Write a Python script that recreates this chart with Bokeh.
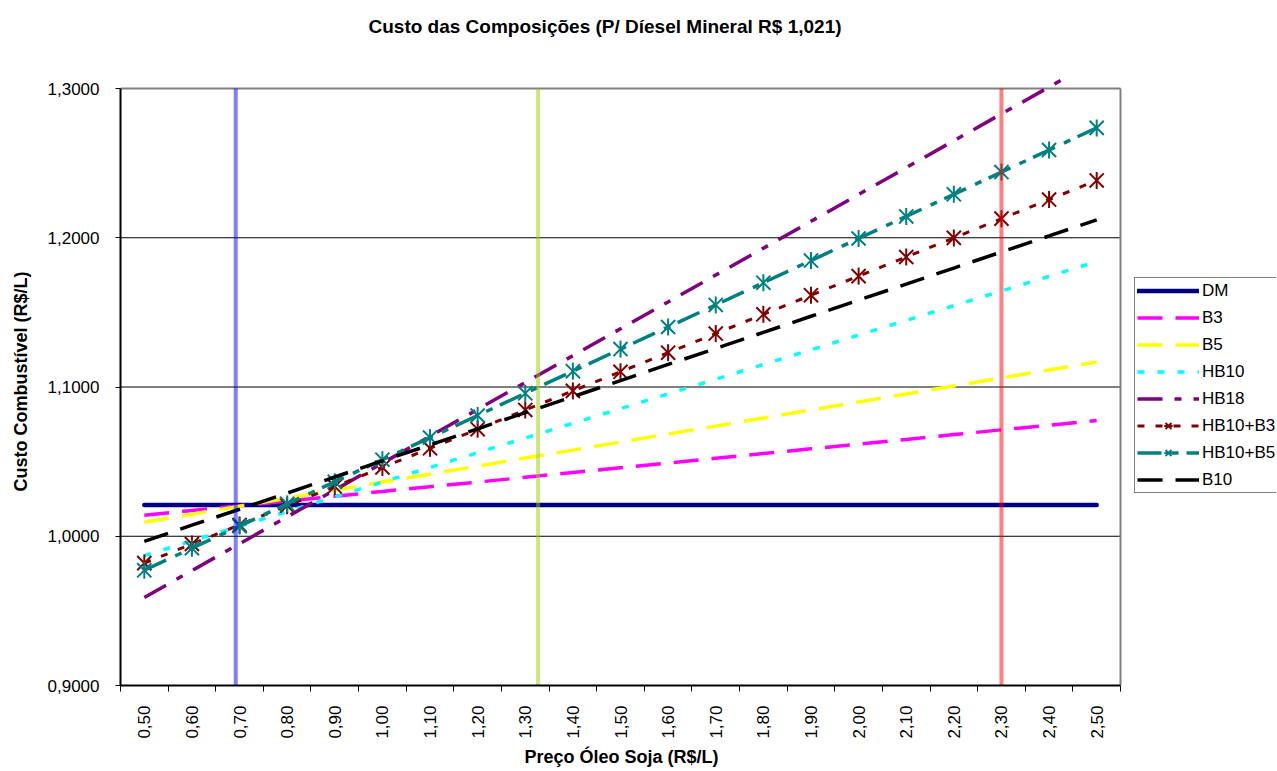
import math
from bokeh.plotting import figure
from bokeh.models import (Range1d, FixedTicker, CustomJSTickFormatter,
                          Legend, LegendItem, Title)
from bokeh.embed import file_html
from bokeh.resources import INLINE

# ---------------- data ----------------
prices = [0.50, 0.60, 0.70, 0.80, 0.90, 1.00, 1.10, 1.20, 1.30, 1.40, 1.50,
          1.60, 1.70, 1.80, 1.90, 2.00, 2.10, 2.20, 2.30, 2.40, 2.50]
x_labels = ["0,50", "0,60", "0,70", "0,80", "0,90", "1,00", "1,10", "1,20",
            "1,30", "1,40", "1,50", "1,60", "1,70", "1,80", "1,90", "2,00",
            "2,10", "2,20", "2,30", "2,40", "2,50"]
y_ticks = [0.9, 1.0, 1.1, 1.2, 1.3]
y_labels = ["0,9000", "1,0000", "1,1000", "1,2000", "1,3000"]

dm = [1.021, 1.021, 1.021, 1.021, 1.021, 1.021, 1.021, 1.021, 1.021, 1.021, 1.021,
      1.021, 1.021, 1.021, 1.021, 1.021, 1.021, 1.021, 1.021, 1.021, 1.021]
b3 = [1.0141, 1.0173, 1.0205, 1.0236, 1.0268, 1.0300, 1.0332, 1.0363, 1.0395,
      1.0427, 1.0459, 1.0490, 1.0522, 1.0554, 1.0586, 1.0617, 1.0649, 1.0681,
      1.0713, 1.0744, 1.0776]
b5 = [1.0094, 1.0148, 1.0201, 1.0255, 1.0309, 1.0363, 1.0416, 1.0470, 1.0524,
      1.0577, 1.0631, 1.0685, 1.0738, 1.0792, 1.0846, 1.0900, 1.0953, 1.1007,
      1.1061, 1.1114, 1.1168]
hb10 = [0.9870, 0.9969, 1.0067, 1.0166, 1.0264, 1.0363, 1.0461, 1.0560, 1.0658,
        1.0757, 1.0855, 1.0954, 1.1052, 1.1151, 1.1249, 1.1348, 1.1446, 1.1545,
        1.1643, 1.1742, 1.1840]
hb18 = [0.9590, 0.9770, 0.9950, 1.0130, 1.0310, 1.0490, 1.0670, 1.0850, 1.1030,
        1.1210, 1.1390, 1.1570, 1.1750, 1.1930, 1.2110, 1.2290, 1.2470, 1.2650,
        1.2830, 1.3010, 1.3190]
hb10_b3 = [0.9820, 0.9948, 1.0076, 1.0205, 1.0333, 1.0461, 1.0589, 1.0717, 1.0846,
           1.0974, 1.1102, 1.1230, 1.1358, 1.1487, 1.1615, 1.1743, 1.1871, 1.1999,
           1.2128, 1.2256, 1.2384]
hb10_b5 = [0.9772, 0.9920, 1.0068, 1.0217, 1.0365, 1.0513, 1.0661, 1.0809, 1.0958,
           1.1106, 1.1254, 1.1402, 1.1550, 1.1699, 1.1847, 1.1995, 1.2143, 1.2291,
           1.2440, 1.2588, 1.2736]
b10 = [0.9966, 1.0074, 1.0181, 1.0289, 1.0397, 1.0505, 1.0612, 1.0720, 1.0828,
       1.0935, 1.1043, 1.1151, 1.1258, 1.1366, 1.1474, 1.1582, 1.1689, 1.1797,
       1.1905, 1.2012, 1.2120]

ref_prices = [0.692, 1.327, 2.30]
ref_colors = ["#0000FF", "#99CC00", "#FF0000"]

FONT = "Liberation Sans"

# category boundaries (tick marks between categories)
half = [(prices[i + 1] - prices[i]) / 2 for i in range(len(prices) - 1)]
bounds = [prices[0] - half[0]] + [prices[i] + half[i] for i in range(len(half))] + [prices[-1] + half[-1]]
x_lo, x_hi = bounds[0], bounds[-1]
y_lo, y_hi = y_ticks[0], y_ticks[-1]

# layout geometry (pixels)
FIG_W, FIG_H = 1276, 770
LEFT, BOTTOM = 120, 85
PLOT_W, PLOT_H = 1000, 597           # drawn plot area
TOP = 77                             # frame a bit taller than plot area (line overshoot)
frame_w = FIG_W - LEFT
frame_h = FIG_H - TOP - BOTTOM
x_end = x_lo + (x_hi - x_lo) * frame_w / PLOT_W
y_end = y_lo + (y_hi - y_lo) * frame_h / PLOT_H

# ---------------- figure ----------------
p = figure(width=FIG_W, height=FIG_H,
           x_range=Range1d(x_lo, x_end), y_range=Range1d(y_lo, y_end),
           output_backend="svg", toolbar_location=None,
           min_border_left=LEFT, min_border_right=0,
           min_border_top=TOP, min_border_bottom=BOTTOM)
p.background_fill_color = "white"
p.border_fill_color = "white"
p.outline_line_color = None

p.title.text = "Custo das Composições (P/ Díesel Mineral R$ 1,021)\n\n"
p.title.text_font = FONT
p.title.text_font_size = "19px"
p.title.text_font_style = "bold"
p.title.text_color = "black"
p.title.text_line_height = 0.97
p.title.align = "left"
p.title.vertical_align = "bottom"
p.title.offset = 248
p.title.standoff = 0

# x axis
xa = p.xaxis[0]
xa.bounds = (x_lo, x_hi)
xa.ticker = FixedTicker(ticks=prices, minor_ticks=bounds)
xa.formatter = CustomJSTickFormatter(args=dict(vals=prices, labs=x_labels), code="""
let best = 0;
for (let k = 1; k < vals.length; k++) {
  if (Math.abs(vals[k] - tick) < Math.abs(vals[best] - tick)) best = k;
}
return labs[best];
""")
xa.major_label_orientation = math.pi / 2
xa.major_tick_out = 0
xa.major_tick_in = 0
xa.minor_tick_out = 6
xa.minor_tick_in = 0
xa.minor_tick_line_color = "black"
xa.axis_line_width = 2
xa.axis_line_color = "black"
xa.major_label_standoff = 14
xa.major_label_text_font = FONT
xa.major_label_text_font_size = "17px"
xa.major_label_text_color = "black"

# x axis title (centred under the drawn plot area)
xlab = Title(text="Preço Óleo Soja (R$/L)", align="left", offset=404,
             vertical_align="bottom", standoff=6,
             text_font=FONT, text_font_size="18px", text_font_style="bold",
             text_color="black")
p.add_layout(xlab, "below")

# y axis
ya = p.yaxis[0]
ya.bounds = (y_lo, y_hi)
ya.ticker = FixedTicker(ticks=y_ticks, minor_ticks=[])
ya.formatter = CustomJSTickFormatter(args=dict(vals=y_ticks, labs=y_labels), code="""
let best = 0;
for (let k = 1; k < vals.length; k++) {
  if (Math.abs(vals[k] - tick) < Math.abs(vals[best] - tick)) best = k;
}
return labs[best];
""")
ya.major_tick_out = 5
ya.major_tick_in = 0
ya.minor_tick_out = 0
ya.minor_tick_in = 0
ya.axis_line_width = 2
ya.axis_line_color = "black"
ya.major_label_standoff = 16
ya.major_label_text_font = FONT
ya.major_label_text_font_size = "17px"
ya.major_label_text_color = "black"
ya.axis_label = "Custo Combustível (R$/L)"
ya.axis_label_text_font = FONT
ya.axis_label_text_font_size = "18px"
ya.axis_label_text_font_style = "bold"
ya.axis_label_text_color = "black"
ya.axis_label_standoff = 14

p.xgrid.visible = False
p.ygrid.visible = False

# horizontal grid lines limited to the plot area
grid_y = y_ticks[1:-1]
p.segment(x0=[x_lo] * len(grid_y), y0=grid_y, x1=[x_hi] * len(grid_y), y1=grid_y,
          line_color="black", line_width=1)
# plot-area border (top and right)
p.segment(x0=[x_lo, x_hi], y0=[y_hi, y_lo], x1=[x_hi, x_hi], y1=[y_hi, y_hi],
          line_color="#808080", line_width=2)

# ---------------- series ----------------
r_dm = p.line(prices, dm, line_color="#000080", line_width=4.5, line_cap="round")
r_b3 = p.line(prices, b3, line_color="#FF00FF", line_width=3.5, line_dash="25 13")
r_b5 = p.line(prices, b5, line_color="#FFFF00", line_width=3.5, line_dash="25 13")
r_hb10 = p.line(prices, hb10, line_color="#00FFFF", line_width=3.5, line_dash="7 13")
r_hb18 = p.line(prices, hb18, line_color="#800080", line_width=3.5, line_dash="25 12 7 12")
r_hb3 = p.line(prices, hb10_b3, line_color="#800000", line_width=3, line_dash="7 11")
m_hb3a = p.scatter(prices, hb10_b3, marker="x", size=20, line_color="#800000", line_width=2)
m_hb3b = p.scatter(prices, hb10_b3, marker="dash", angle=math.pi / 2, size=17,
                   line_color="#800000", line_width=2)
r_hb5 = p.line(prices, hb10_b5, line_color="#008080", line_width=3.5, line_dash="24 10 7 8")
m_hb5a = p.scatter(prices, hb10_b5, marker="x", size=20, line_color="#008080", line_width=2)
m_hb5b = p.scatter(prices, hb10_b5, marker="dash", angle=math.pi / 2, size=17,
                   line_color="#008080", line_width=2)
r_b10 = p.line(prices, b10, line_color="black", line_width=3.5, line_dash="25 13")

# vertical reference lines across the plot area
p.segment(x0=ref_prices, y0=[y_lo] * len(ref_prices), x1=ref_prices,
          y1=[y_hi] * len(ref_prices), line_color=ref_colors, line_width=4, line_alpha=0.5)

legend = Legend(items=[
    LegendItem(label="DM", renderers=[r_dm]),
    LegendItem(label="B3", renderers=[r_b3]),
    LegendItem(label="B5", renderers=[r_b5]),
    LegendItem(label="HB10", renderers=[r_hb10]),
    LegendItem(label="HB18", renderers=[r_hb18]),
    LegendItem(label="HB10+B3", renderers=[r_hb3, m_hb3a, m_hb3b]),
    LegendItem(label="HB10+B5", renderers=[r_hb5, m_hb5a, m_hb5b]),
    LegendItem(label="B10", renderers=[r_b10]),
], location=(1014, 192))
legend.border_line_color = "black"
legend.border_line_width = 1
legend.background_fill_color = "white"
legend.background_fill_alpha = 1
legend.label_text_font = FONT
legend.label_text_font_size = "17px"
legend.label_text_color = "black"
legend.glyph_width = 62
legend.glyph_height = 21
legend.label_height = 21
legend.spacing = 6
legend.padding = 2
legend.label_standoff = 3
legend.margin = 0
p.add_layout(legend)

open("out.html", "w").write(file_html(p, INLINE))
